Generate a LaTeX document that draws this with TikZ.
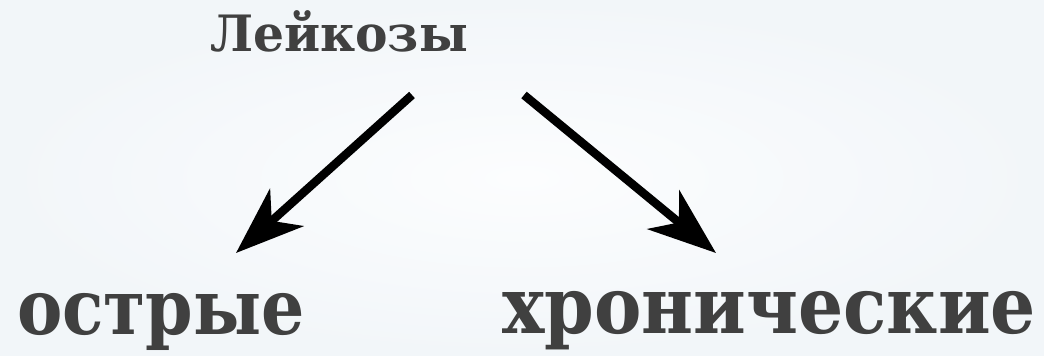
\documentclass[tikz,border=0pt]{standalone}
\usepackage{fontspec}
\usepackage{graphicx}
\setmainfont{DejaVu Serif}
\usetikzlibrary{arrows.meta}
\definecolor{txt}{HTML}{404040}
\definecolor{bgin}{HTML}{FCFDFE}
\definecolor{bgout}{HTML}{F2F6F9}
\newdimen\fitW
\newdimen\fitX
\newcommand\fittext[3]{\begingroup\fontsize{50pt}{60pt}\selectfont\bfseries\sbox0{#3}\fitW=\wd0 \fitX=\fontdimen5\font\pgfmathsetmacro\fsx{#1/\fitW}\pgfmathsetmacro\fsy{#2/\fitX}\scalebox{\fsx}[\fsy]{\usebox0}\endgroup}
\tikzset{
  lbl/.style={anchor=base west, inner sep=0pt, outer sep=0pt, text=txt},
  arr/.style={line width=8.5pt, -{Stealth[length=68pt,width=50pt,inset=20pt]}}
}
\begin{document}
\begin{tikzpicture}
\useasboundingbox (0,0) rectangle (1044pt,356pt);
\shade[inner color=bgin, outer color=bgout] (0,0) rectangle (1044pt,356pt);
\node[lbl] (l) at (210pt,304pt) {\fittext{258}{26}{Лейкозы}};
\node[lbl] (a) at (17pt,21pt) {\fittext{288}{40}{острые}};
\node[lbl] (c) at (502pt,22pt) {\fittext{534}{41}{хронические}};
\coordinate (s1) at (412pt,261pt);
\coordinate (e1) at (236pt,103pt);
\coordinate (s2) at (524pt,261pt);
\coordinate (e2) at (716pt,103pt);
\draw[arr] (s1) -- (e1);
\draw[arr] (s2) -- (e2);
\end{tikzpicture}
\end{document}
